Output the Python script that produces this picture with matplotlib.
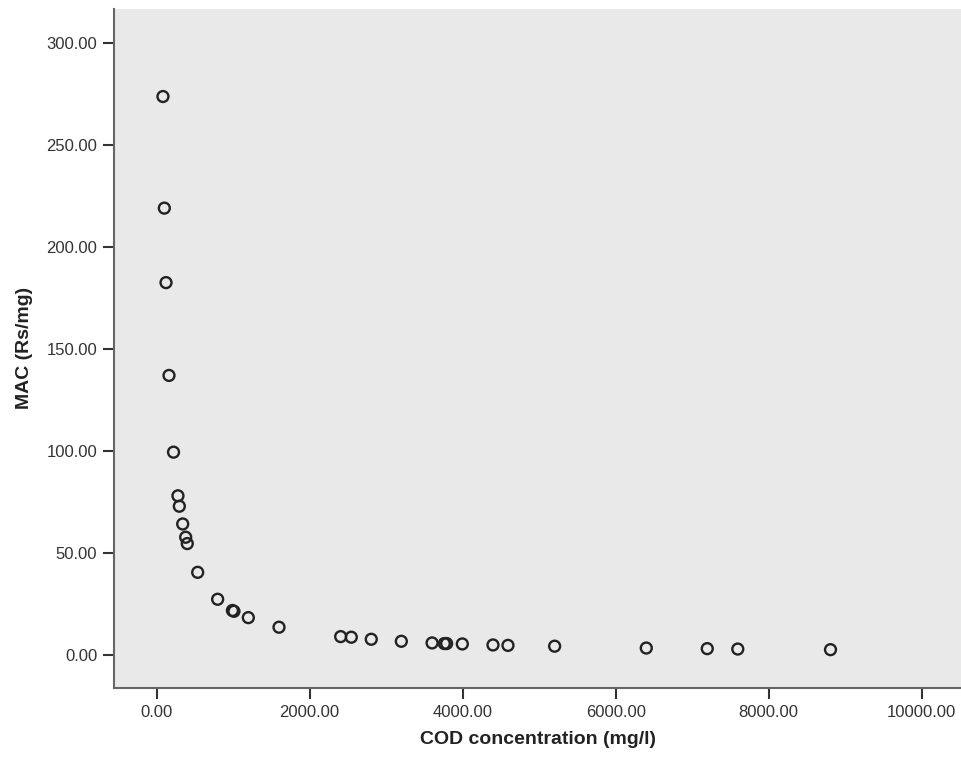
import matplotlib
matplotlib.use('Agg')
import matplotlib.pyplot as plt

# COD concentration (mg/l) and MAC (Rs/mg)
cod = [82, 100, 122, 161, 220, 278, 296, 340, 379, 400, 536, 797, 990, 1010,
       1198, 1599, 2405, 2544, 2805, 3198, 3600, 3760, 3790, 3995, 4396, 4592,
       5202, 6400, 7197, 7596, 8808]
mac = [273.7, 219.0, 182.5, 137.0, 99.4, 78.0, 72.9, 64.2, 57.7, 54.6, 40.5,
       27.3, 21.8, 21.4, 18.3, 13.6, 9.0, 8.7, 7.7, 6.7, 5.9, 5.6, 5.6, 5.4,
       4.9, 4.7, 4.3, 3.4, 3.1, 2.9, 2.6]

xticks = [0, 2000, 4000, 6000, 8000, 10000]
yticks = [0, 50, 100, 150, 200, 250, 300]

plt.rcParams['font.family'] = ['Liberation Sans', 'DejaVu Sans']

fig = plt.figure(figsize=(9.62, 7.66), dpi=100)
ax = fig.add_axes([0.1185, 0.1018, 0.8815, 0.887])
ax.set_facecolor('#e9e9e9')

ax.scatter(cod, mac, s=62, facecolors='none', edgecolors='#222222',
           linewidths=1.7, zorder=3)

ax.set_xlim(-558, 10527)
ax.set_ylim(-16.2, 316.8)
ax.set_xticks(xticks)
ax.set_yticks(yticks)
ax.set_xticklabels(['%.2f' % t for t in xticks])
ax.set_yticklabels(['%.2f' % t for t in yticks])

for side in ['top', 'right']:
    ax.spines[side].set_visible(False)
for side in ['left', 'bottom']:
    ax.spines[side].set_color('#666666')
    ax.spines[side].set_linewidth(1.5)

ax.tick_params(axis='both', direction='out', length=8, width=1.5,
               color='#333333', labelcolor='#333333', labelsize=12, pad=4)

ax.set_xlabel('COD concentration (mg/l)', fontsize=14, fontweight='bold',
              color='#222222', labelpad=8)
ax.set_ylabel('MAC (Rs/mg)', fontsize=14, fontweight='bold',
              color='#222222', labelpad=10)

fig.savefig('out.png', dpi=100)
